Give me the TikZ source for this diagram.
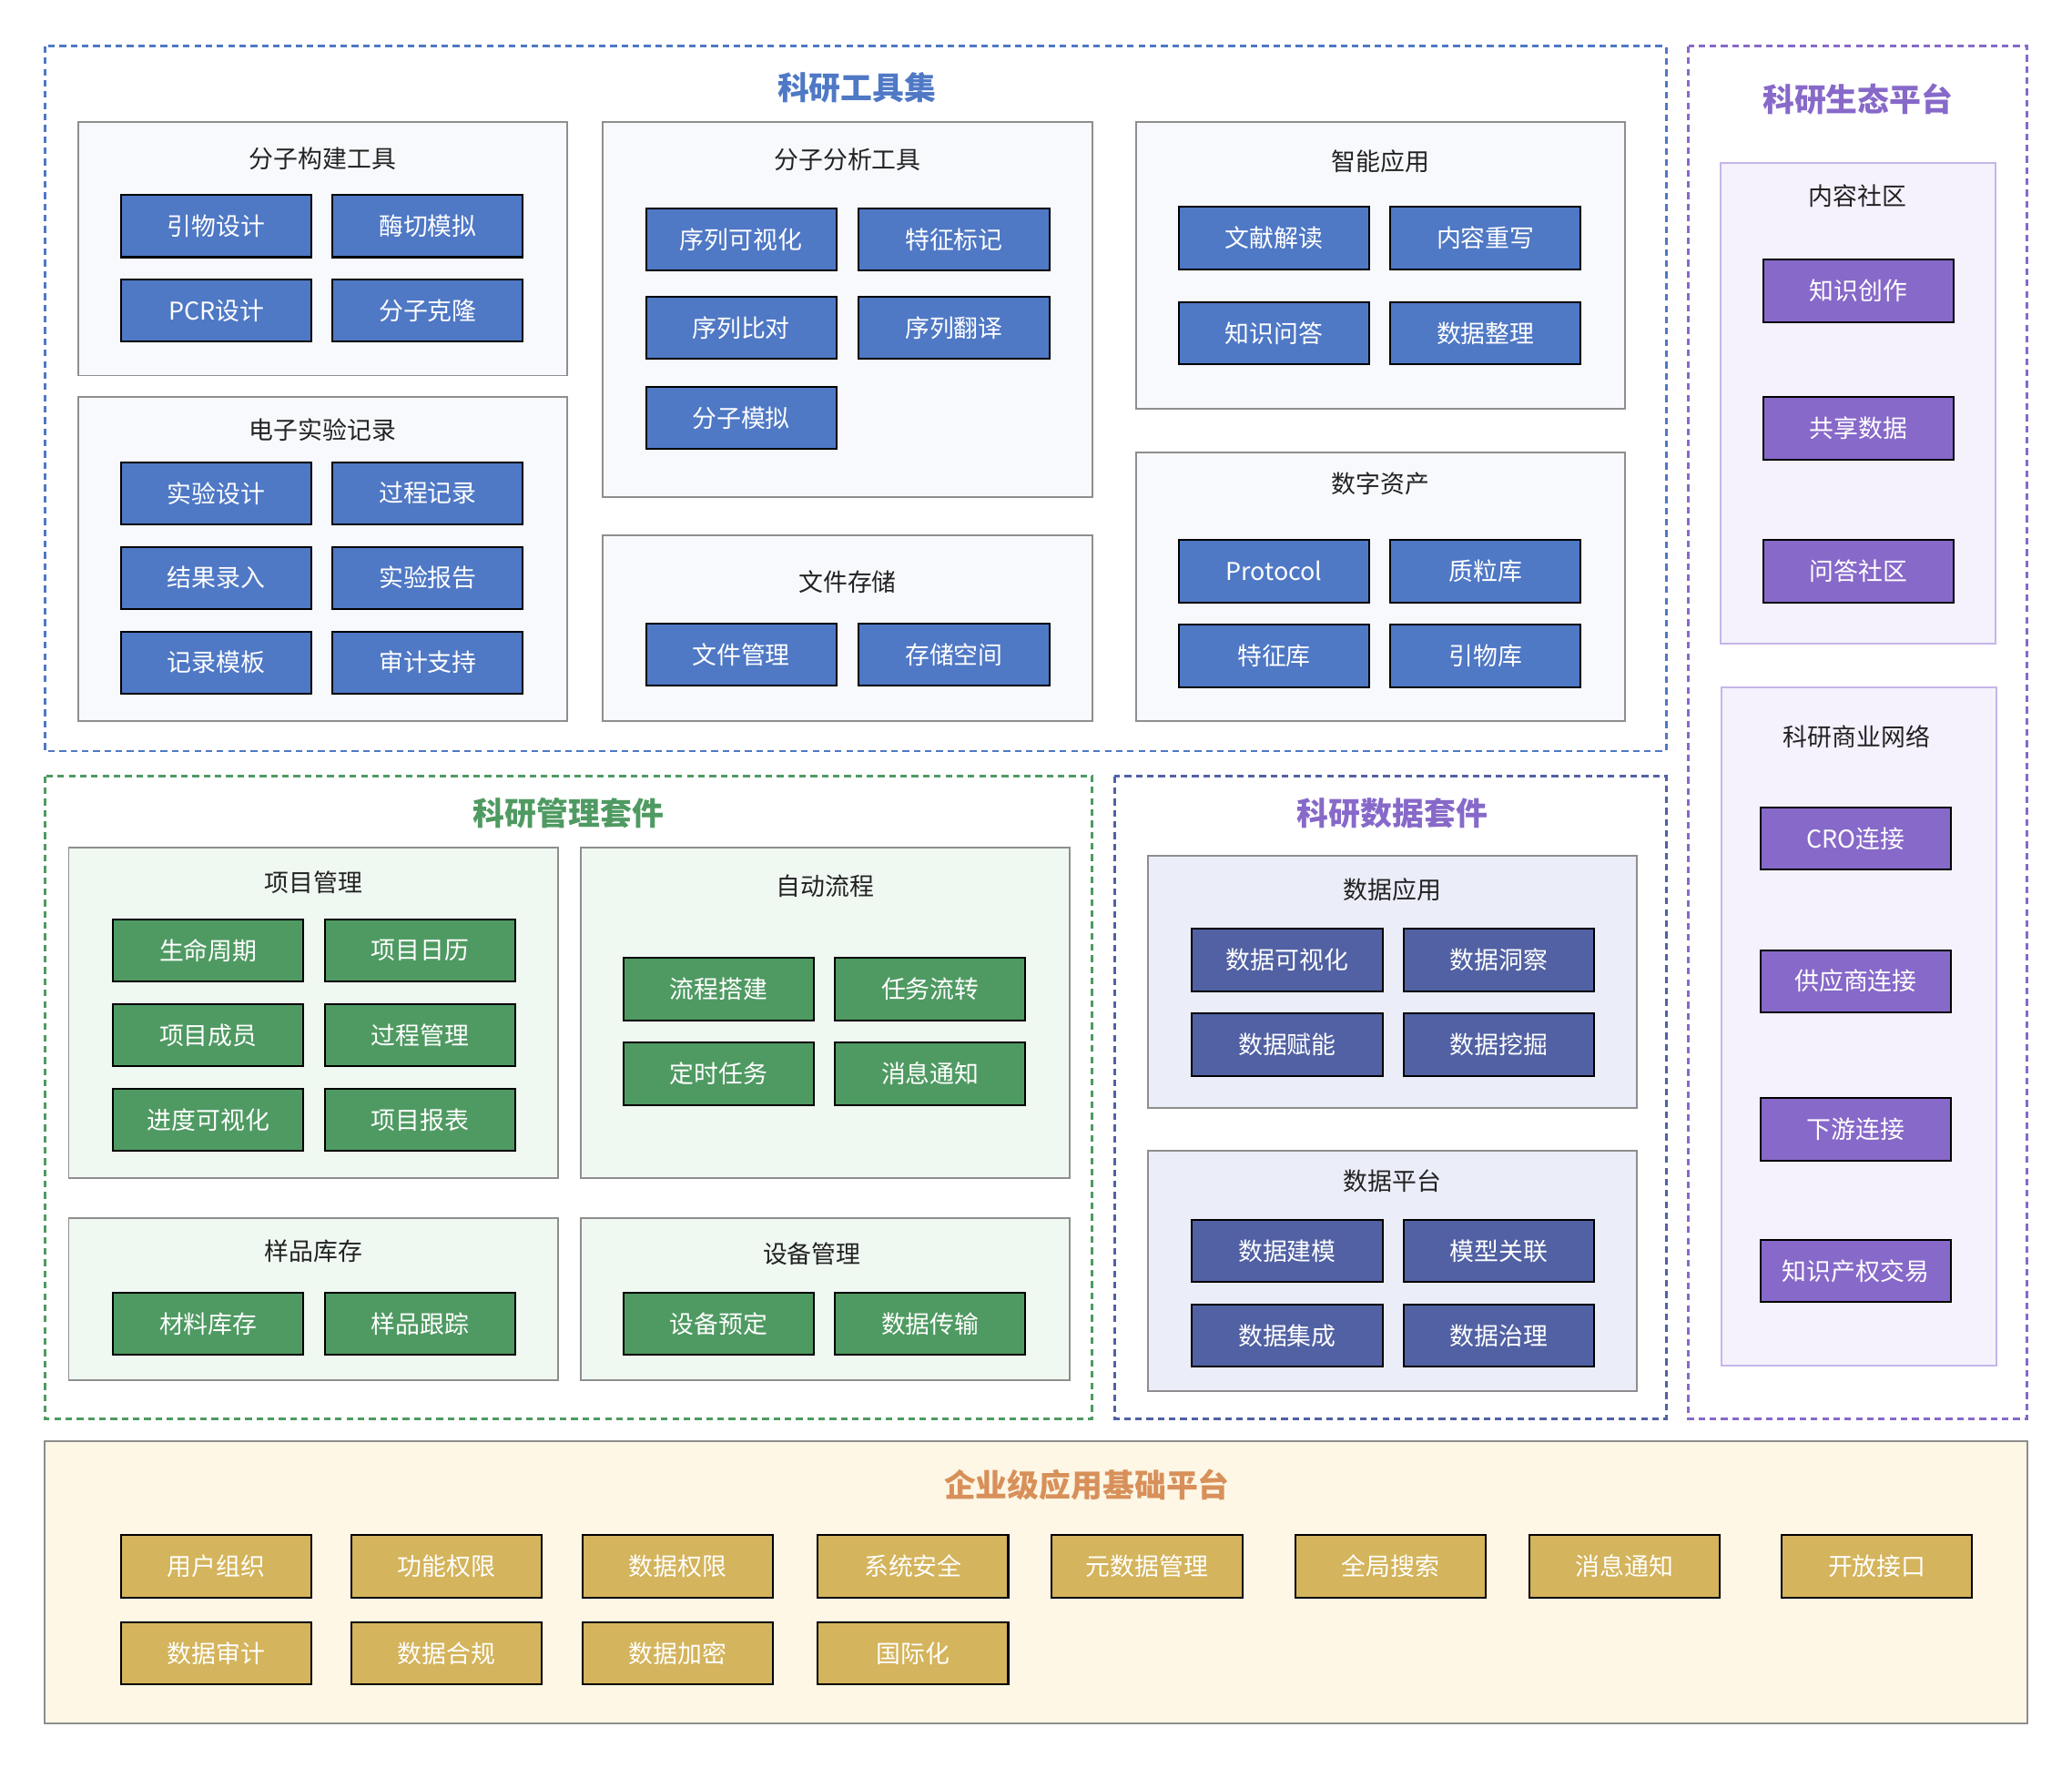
\documentclass[tikz,border=0pt]{standalone}
\usepackage{fontspec}
\setmainfont{Noto Sans CJK SC}
\usepackage{tikz}
\usetikzlibrary{positioning}
\definecolor{toolblue}{HTML}{4F78C5}
\definecolor{mgmtgreen}{HTML}{4F9A62}
\definecolor{datanavy}{HTML}{5161A3}
\definecolor{ecopurple}{HTML}{8769C9}
\definecolor{baseyellow}{HTML}{D4B45C}
\definecolor{baseorange}{HTML}{D8905A}
\definecolor{toolfill}{HTML}{F8F9FD}
\definecolor{mgmtfill}{HTML}{F0F8F2}
\definecolor{datafill}{HTML}{EBEDF8}
\definecolor{ecofill}{HTML}{F5F1FD}
\definecolor{basefill}{HTML}{FEF7E6}
\definecolor{ecoedge}{HTML}{C5B6E8}
\definecolor{paneledge}{HTML}{8E8E8E}
\definecolor{titlegray}{HTML}{222222}
\tikzset
    {
        it/.style = {draw=black, line width=1.4pt, text=white, inner sep=0pt,
                     minimum width=144pt, minimum height=47pt,
                     font=\fontsize{18.5}{20}\selectfont},
        toolit/.style = {it, fill=toolblue},
        mgmtit/.style = {it, fill=mgmtgreen},
        datait/.style = {it, fill=datanavy},
        ecoit/.style = {it, fill=ecopurple},
        baseit/.style = {it, fill=baseyellow},
        suite/.style = {line width=2pt, dash pattern=on 5pt off 3.5pt},
        pnl/.style = {draw=paneledge, line width=1.3pt},
        ptitle/.style = {text=titlegray, font=\fontsize{18.5}{20}\selectfont},
        stitle/.style = {font=\fontsize{24}{26}\selectfont\bfseries}
    }
\begin{document}
\begin{tikzpicture}[x=1pt, y=-1pt]
    \useasboundingbox (0,0) rectangle (1567,1337);
    % suites
    \draw[suite, draw=toolblue] (34,35) rectangle (1260,568);
    \draw[suite, draw=ecopurple] (1277,35) rectangle (1533,1073);
    \draw[suite, draw=mgmtgreen] (34,587) rectangle (826,1073);
    \draw[suite, draw=datanavy] (843,587) rectangle (1260,1073);
    \draw[pnl, fill=basefill] (34,1090) rectangle (1533,1303);
    \node[stitle, text=toolblue] (tools) at (648,66) {科研工具集};
    \node[stitle, text=ecopurple] (eco) at (1405,75) {科研生态平台};
    \node[stitle, text=mgmtgreen] (mgmt) at (430,615) {科研管理套件};
    \node[stitle, text=ecopurple] (data) at (1053,615) {科研数据套件};
    \node[stitle, text=baseorange] (base) at (822,1123) {企业级应用基础平台};
    % panels
    \foreach \xa/\ya/\xb/\yb in {59/92/429/284, 59/300/429/545, 456/92/826/376,
                                 456/405/826/545, 859/92/1229/309, 859/342/1229/545}
        \draw[pnl, fill=toolfill] (\xa,\ya) rectangle (\xb,\yb);
    \foreach \xa/\ya/\xb/\yb in {52/641/422/891, 439/641/809/891, 52/921/422/1044, 439/921/809/1044}
        \draw[pnl, fill=mgmtfill] (\xa,\ya) rectangle (\xb,\yb);
    \foreach \xa/\ya/\xb/\yb in {868/647/1238/838, 868/870/1238/1052}
        \draw[pnl, fill=datafill] (\xa,\ya) rectangle (\xb,\yb);
    \foreach \xa/\ya/\xb/\yb in {1301/123/1509/487, 1302/520/1510/1033}
        \draw[draw=ecoedge, line width=1.3pt, fill=ecofill] (\xa,\ya) rectangle (\xb,\yb);
    % panel titles
    \foreach \nm/\x/\y/\txt in {build/244/120/分子构建工具, eln/244/325/电子实验记录,
                               analysis/641/121/分子分析工具, files/641/440/文件存储,
                               smart/1044/122/智能应用, assets/1044/366/数字资产,
                               project/237/667/项目管理, flow/624/670/自动流程,
                               samples/237/946/样品库存, devices/614/948/设备管理,
                               dapp/1053/673/数据应用, dplat/1053/893/数据平台,
                               community/1405/148/内容社区, network/1404/557/科研商业网络}
        \node[ptitle] (\nm) at (\x,\y) {\txt};
    % tool items
    \foreach \nm/\x/\y/\txt in {b1/163.5/171/引物设计, b2/323.5/171/酶切模拟,
                               b3/163.5/235/PCR设计, b4/323.5/235/分子克隆,
                               e1/163.5/373/实验设计, e2/323.5/373/过程记录,
                               e3/163.5/437/结果录入, e4/323.5/437/实验报告,
                               e5/163.5/501/记录模板, e6/323.5/501/审计支持,
                               a1/560.5/181/序列可视化, a2/721.5/181/特征标记,
                               a3/560.5/248/序列比对, a4/721.5/248/序列翻译,
                               a5/560.5/316/分子模拟,
                               f1/560.5/495/文件管理, f2/721.5/495/存储空间,
                               s1/963.5/180/文献解读, s2/1123.5/180/内容重写,
                               s3/963.5/252/知识问答, s4/1123.5/252/数据整理,
                               d1/963.5/432/Protocol, d2/1123.5/432/质粒库,
                               d3/963.5/496/特征库, d4/1123.5/496/引物库}
        \node[toolit] (\nm) at (\x,\y) {\txt};
    % management items
    \foreach \nm/\x/\y/\txt in {p1/157.5/719/生命周期, p2/317.5/719/项目日历,
                               p3/157.5/783/项目成员, p4/317.5/783/过程管理,
                               p5/157.5/847/进度可视化, p6/317.5/847/项目报表,
                               w1/543.5/748/流程搭建, w2/703.5/748/任务流转,
                               w3/543.5/812/定时任务, w4/703.5/812/消息通知,
                               m1/157.5/1001/材料库存, m2/317.5/1001/样品跟踪,
                               v1/543.5/1001/设备预定, v2/703.5/1001/数据传输}
        \node[mgmtit] (\nm) at (\x,\y) {\txt};
    % data items
    \foreach \nm/\x/\y/\txt in {u1/973.5/726/数据可视化, u2/1133.5/726/数据洞察,
                               u3/973.5/790/数据赋能, u4/1133.5/790/数据挖掘,
                               t1/973.5/946/数据建模, t2/1133.5/946/模型关联,
                               t3/973.5/1010/数据集成, t4/1133.5/1010/数据治理}
        \node[datait] (\nm) at (\x,\y) {\txt};
    % eco items
    \foreach \nm/\x/\y/\txt in {c1/1405.5/220/知识创作, c2/1405.5/324/共享数据,
                               c3/1405.5/432/问答社区,
                               n1/1403.5/634/CRO连接, n2/1403.5/742/供应商连接,
                               n3/1403.5/854/下游连接, n4/1403.5/961/知识产权交易}
        \node[ecoit] (\nm) at (\x,\y) {\txt};
    % base items
    \foreach \nm/\x/\y/\txt in {g1/163.5/1184.5/用户组织, g2/337.5/1184.5/功能权限,
                               g3/512.5/1184.5/数据权限, g4/690.5/1184.5/系统安全,
                               g5/867.5/1184.5/元数据管理, g6/1051.5/1184.5/全局搜索,
                               g7/1228.5/1184.5/消息通知, g8/1419.5/1184.5/开放接口,
                               h1/163.5/1250.5/数据审计, h2/337.5/1250.5/数据合规,
                               h3/512.5/1250.5/数据加密, h4/690.5/1250.5/国际化}
        \node[baseit] (\nm) at (\x,\y) {\txt};
\end{tikzpicture}
\end{document}
